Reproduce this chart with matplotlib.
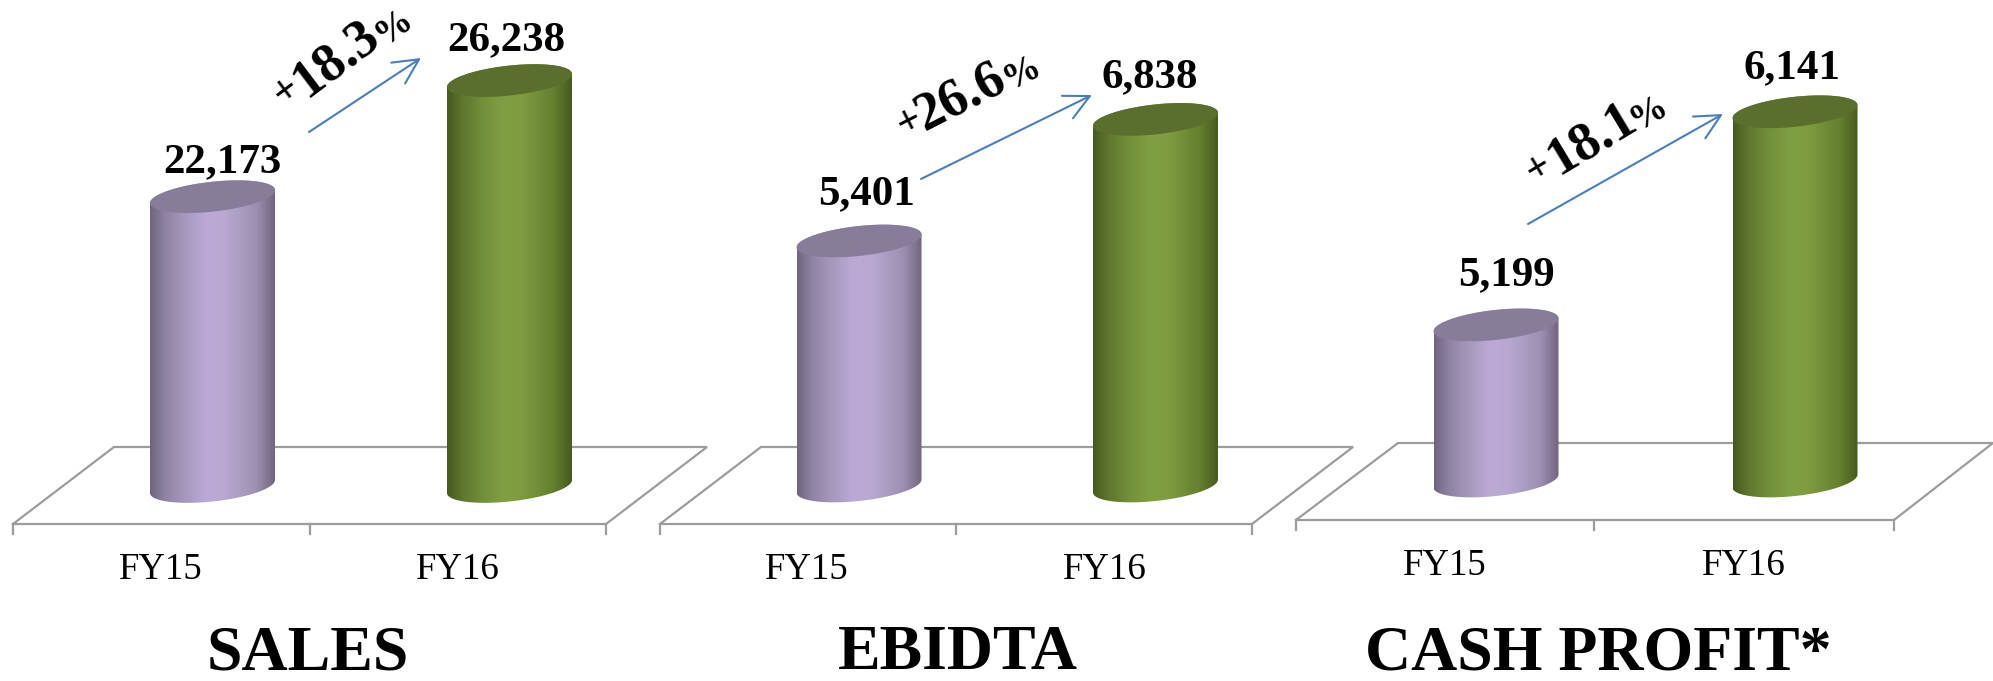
import numpy as np
import matplotlib
matplotlib.use('Agg')
import matplotlib.pyplot as plt
from matplotlib.colors import LinearSegmentedColormap
from matplotlib.path import Path
from matplotlib.patches import PathPatch
from matplotlib.transforms import IdentityTransform

plt.rcParams['font.family'] = ['Liberation Serif', 'DejaVu Serif']

# data
years = ['FY15', 'FY16']
panel_names = ['SALES', 'EBIDTA', 'CASH PROFIT*']
sales = [22173, 26238]
ebidta = [5401, 6838]
cash_profit = [5199, 6141]
growth = ['18.3', '26.6', '18.1']

W, H = 1993, 681
BAR_W = 125
BAR_B = 15   # half height of the cylinder caps
SHEAR = -0.104

# layout in reference pixels, y down
panels = [
    dict(values=sales, ymin=12030, units=35.0, base=486.5, bars=(212.5, 509.5),
         front=(13, 606, 524), back=(114, 707, 447), mid=310,
         labels=[(222, 162), (506, 40)], ticks=[(161, 570), (458, 570)], title=(308, 654),
         arrow=((309, 132), (421, 58)), rot=37,
         plus=(287, 91), num=(336, 59), pct=(393, 27)),
    dict(values=ebidta, ymin=2505, units=11.82, base=486, bars=(859, 1155.5),
         front=(660, 1252, 524), back=(761, 1353, 447), mid=956,
         labels=[(867, 194), (1150, 77)], ticks=[(807, 570), (1105, 570)], title=(958, 654),
         arrow=((921, 179), (1092, 95)), rot=27,
         plus=(910, 122), num=(961, 97), pct=(1022, 73)),
    dict(values=cash_profit, ymin=4509, units=4.42, base=481, bars=(1496, 1795),
         front=(1296, 1894, 520), back=(1398, 1993, 443), mid=1594,
         labels=[(1506, 275), (1792, 68)], ticks=[(1445, 566), (1744, 566)], title=(1598, 654),
         arrow=((1528, 224), (1723, 114)), rot=31,
         plus=(1539, 169), num=(1592, 139), pct=(1648, 113)),
]

purple_cmap = LinearSegmentedColormap.from_list('p', [(0, '#6f6480'), (0.12, '#8f83a3'), (0.3, '#a99bbf'),
                                                      (0.45, '#bbaad6'), (0.6, '#b8a8d2'), (0.85, '#9e90b2'),
                                                      (1, '#716680')])
green_cmap = LinearSegmentedColormap.from_list('g', [(0, '#445a20'), (0.12, '#5f762e'), (0.3, '#74913c'),
                                                     (0.45, '#809e42'), (0.6, '#7f9c41'), (0.85, '#65802f'),
                                                     (1, '#465b1f')])
cap_colors = ['#877c9a', '#5a6e2e']
bar_cmaps = [purple_cmap, green_cmap]
FLOOR = '#9c9c9c'
ARROW = '#4a7ebb'


def cylinder(ax, i, value, cmap, cap_color):
    # centre of the caps in display coords, taken from the axes scales
    bx, by = ax.transData.transform((i, ax.ymin_value))
    tx, ty = ax.transData.transform((i, value))
    t = np.linspace(0, np.pi, 61)
    dx = BAR_W / 2 * np.cos(t)
    # outline: top half of top cap plus lower half of bottom cap
    upper_x, upper_y = tx + dx, ty + BAR_B * np.sin(t) - SHEAR * dx
    lower_x, lower_y = bx - dx, by - BAR_B * np.sin(t) + SHEAR * dx
    verts = np.column_stack([np.r_[upper_x, lower_x], np.r_[upper_y, lower_y]])
    verts = np.vstack([verts, verts[0]])
    codes = [Path.MOVETO] + [Path.LINETO] * (len(verts) - 2) + [Path.CLOSEPOLY]
    body = PathPatch(Path(verts, codes), transform=IdentityTransform(), fc='none', ec='none')
    ax.add_patch(body)

    half = (BAR_W / 2) / ax.px_per_x
    y0, y1 = ax.get_ylim()
    img = ax.imshow(np.linspace(0, 1, 256).reshape(1, -1), cmap=cmap, aspect='auto',
                    extent=(i - half, i + half, y0, y1), zorder=2)
    img.set_clip_path(body)

    a = np.linspace(0, 2 * np.pi, 121)
    ddx = BAR_W / 2 * np.cos(a)
    ax.fill(tx + ddx, ty + BAR_B * np.sin(a) - SHEAR * ddx,
            color=cap_color, lw=0, zorder=3, transform=IdentityTransform())


fig = plt.figure(figsize=(W / 100, H / 100), dpi=100)
bg = fig.add_axes([0, 0, 1, 1], zorder=0)
bg.set_xlim(0, W)
bg.set_ylim(H, 0)
bg.axis('off')

for p, name, g in zip(panels, panel_names, growth):
    # floor of the 3d chart
    fl, fr, fy = p['front']
    bl, br, by = p['back']
    bg.plot([fl, bl, br, fr, fl], [fy, by, by, fy, fy], color=FLOOR, lw=1.6, solid_joinstyle='miter')
    for tx in (fl, p['mid'], fr):
        bg.plot([tx, tx], [fy, fy + 10], color=FLOOR, lw=1.6)

    # bars get their own axes, the value axis does not start at zero
    c0, c1 = p['bars']
    step = c1 - c0
    left, right = c0 - step / 2, c1 + step / 2
    ax = fig.add_axes([left / W, 0, (right - left) / W, 1], zorder=1)
    ax.set_xlim(-0.5, 1.5)
    ax.set_ylim(p['ymin'] - (H - p['base']) * p['units'], p['ymin'] + p['base'] * p['units'])
    ax.axis('off')
    ax.ymin_value = p['ymin']
    ax.px_per_x = step
    for i, v in enumerate(p['values']):
        cylinder(ax, i, v, bar_cmaps[i], cap_colors[i])
    ax.set_xlim(-0.5, 1.5)
    ax.set_ylim(p['ymin'] - (H - p['base']) * p['units'], p['ymin'] + p['base'] * p['units'])

    for v, (x, y) in zip(p['values'], p['labels']):
        bg.text(x, y, f'{v:,}', ha='center', va='center', fontsize=31, fontweight='bold')
    for lab, (x, y) in zip(years, p['ticks']):
        bg.text(x, y, lab, ha='center', va='center', fontsize=26.5)
    bg.text(*p['title'], name, ha='center', va='center', fontsize=46, fontweight='bold')

    bg.annotate('', xy=p['arrow'][1], xytext=p['arrow'][0],
                arrowprops=dict(arrowstyle='->,head_length=0.9,head_width=0.45', color=ARROW, lw=1.5,
                                shrinkA=0, shrinkB=0, mutation_scale=20))

    # growth label, three sizes along one slanted line
    bg.text(*p['plus'], '+', rotation=p['rot'], rotation_mode='anchor', ha='center', va='center',
            fontsize=30, fontweight='bold')
    bg.text(*p['num'], g, rotation=p['rot'], rotation_mode='anchor', ha='center', va='center',
            fontsize=39, fontweight='bold')
    bg.text(*p['pct'], '%', rotation=p['rot'], rotation_mode='anchor', ha='center', va='center',
            fontsize=27, fontweight='bold')

fig.savefig('out.png', dpi=100)
